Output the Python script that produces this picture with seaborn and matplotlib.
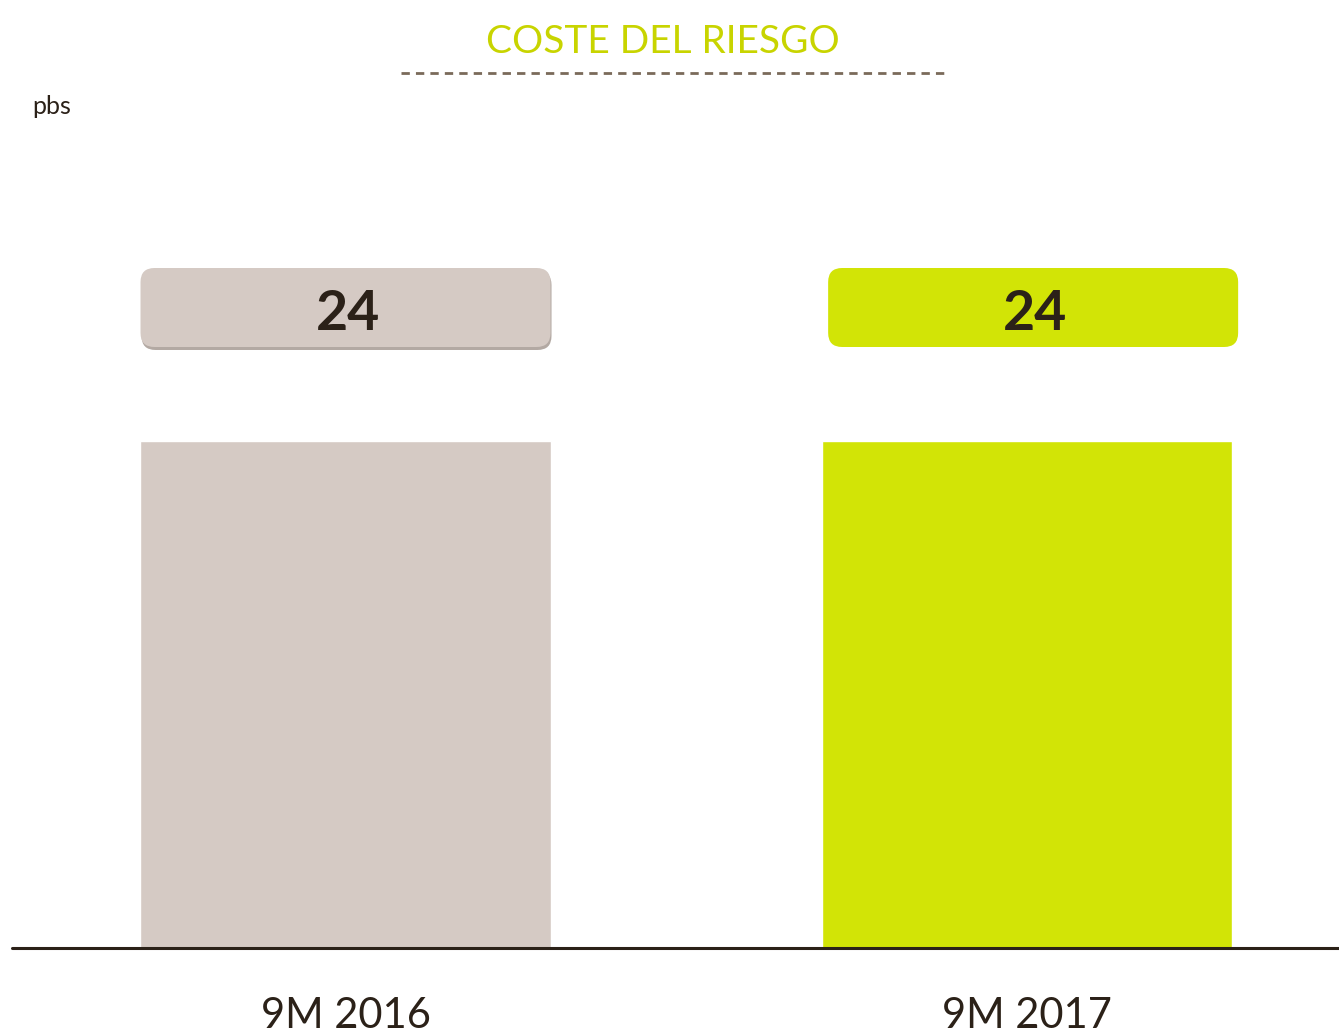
import numpy as np
import matplotlib.pyplot as plt
import seaborn as sns
import pandas as pd
from matplotlib.patches import FancyBboxPatch

# data
periods = ["9M 2016", "9M 2017"]
values = [24, 24]
bar_colors = ["#d5cac4", "#d2e406"]

title_color = "#c8d400"
dark = "#2b2118"

sns.set_theme(style="white")
plt.rcParams['font.family'] = ['Lato', 'DejaVu Sans']

df = pd.DataFrame({"periodo": periods, "pbs": values})

fig = plt.figure(figsize=(13.39, 10.33), dpi=100)
ax = fig.add_axes([12 / 1339, 85 / 1033, 1 - 12 / 1339, (948 - 100) / 1033])

sns.barplot(data=df, x="periodo", y="pbs", hue="periodo", palette=bar_colors,
            legend=False, width=0.603, saturation=1, ax=ax, zorder=1)

ax.set_xlim(-0.4894, 1.4578)
ax.set_ylim(0, 24 * 848 / 507)
ax.axhline(0, color=dark, lw=2.2, zorder=3, clip_on=False)

for s in ax.spines.values():
    s.set_visible(False)
ax.set_yticks([])
ax.set_xlabel("")
ax.set_ylabel("")
ax.tick_params(axis="x", length=0, pad=35, labelsize=30, labelcolor=dark)

# value boxes above the bars
ypx = 24 / 507  # data units per pixel
xpx = 1 / 681.5
box_h = 79 * ypx
box_w = 410 * xpx
aspect = ypx / xpx
offsets = [0.0, 0.009]
for i, (v, c) in enumerate(zip(values, bar_colors)):
    cx = i + offsets[i]
    yc = v + 133.5 * ypx
    if i == 0:
        shadow = FancyBboxPatch((cx - box_w / 2 + 1 * xpx, yc - box_h / 2 - 3 * ypx), box_w, box_h,
                                boxstyle="round,pad=0,rounding_size=%f" % (14 * xpx),
                                mutation_aspect=aspect, fc="#a0948c", ec="none",
                                alpha=0.8, zorder=2, clip_on=False)
        ax.add_patch(shadow)
    box = FancyBboxPatch((cx - box_w / 2, yc - box_h / 2), box_w, box_h,
                         boxstyle="round,pad=0,rounding_size=%f" % (14 * xpx),
                         mutation_aspect=aspect, fc=c, ec="none", zorder=3, clip_on=False)
    ax.add_patch(box)
    ax.text(cx + 2 * xpx, yc - 6 * ypx, str(v), ha="center", va="center", fontsize=40,
            fontweight="bold", color=dark, zorder=4)

# title and dashed rule
fig.text(663 / 1339, 1 - 42 / 1033, "COSTE DEL RIESGO", ha="center", va="center",
         fontsize=28, color=title_color)
fig.add_artist(plt.Line2D([401 / 1339, 948 / 1339], [1 - 73 / 1033, 1 - 73 / 1033],
                          color="#7a6a5a", lw=2, ls=(0, (3, 2.2))))
fig.text(32 / 1339, 1 - 106 / 1033, "pbs", ha="left", va="center",
         fontsize=18, color=dark)

fig.savefig("out.png", dpi=100)
